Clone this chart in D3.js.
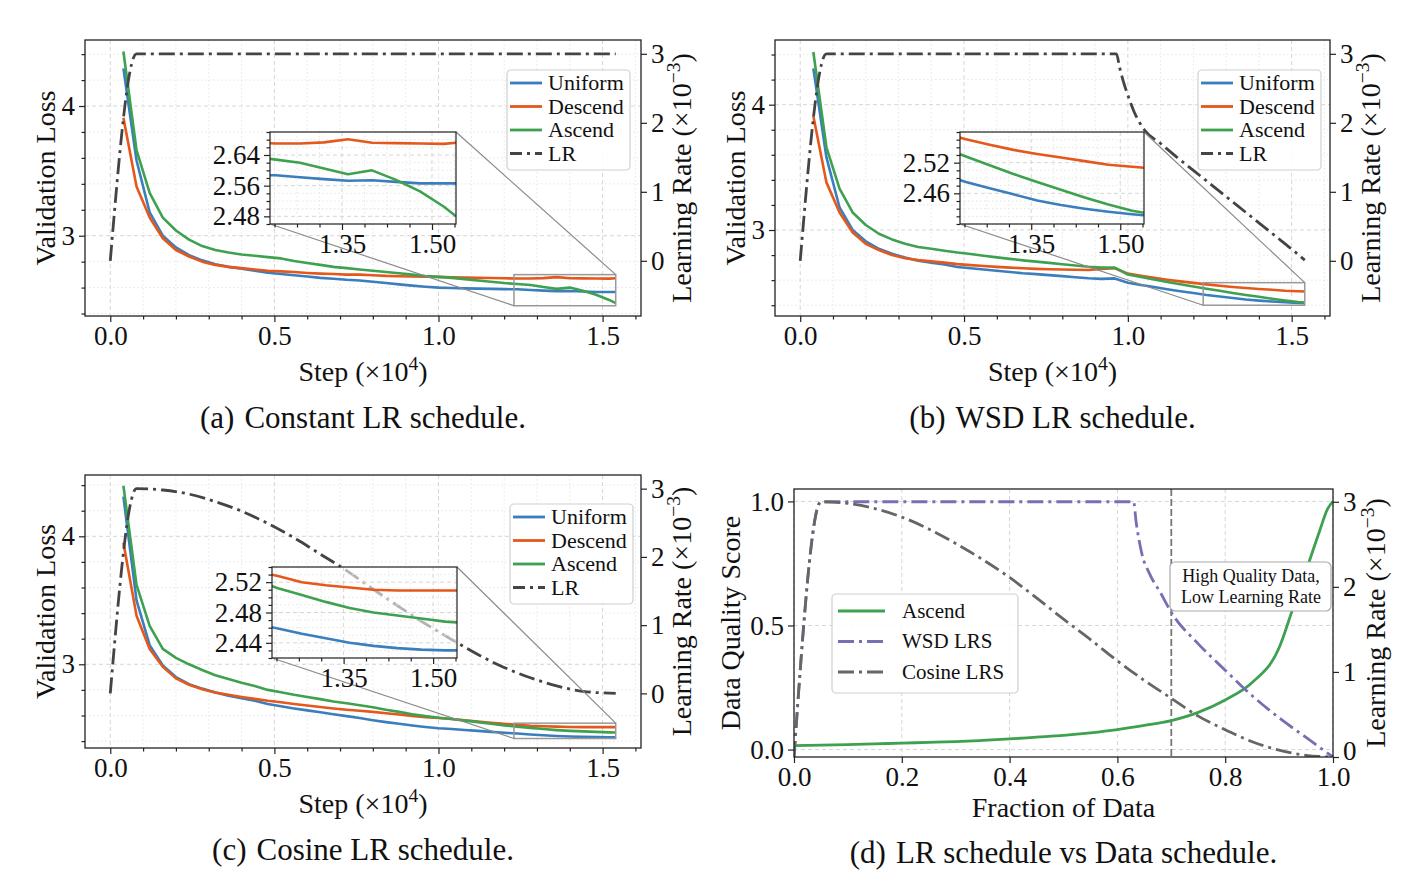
<!DOCTYPE html>
<html>
<head>
<meta charset="utf-8">
<script src="https://cdn.jsdelivr.net/npm/d3@7/dist/d3.min.js"></script>
<style>
  body { margin: 0; background: #fff; }
  text { font-family: "Liberation Serif", "Times New Roman", serif; fill: #111; }
</style>
</head>
<body>
<svg id="fig" width="1420" height="894"></svg>
<script>
// ---------- data (steps in units of 1e4) ----------
const steps = [0.04,0.08,0.12,0.16,0.20,0.24,0.28,0.32,0.36,0.40,0.44,0.48,0.52,0.56,0.60,0.64,0.68,0.72,0.76,0.80,
               0.84,0.88,0.92,0.96,1.00,1.04,1.08,1.12,1.16,1.20,1.24,1.28,1.32,1.36,1.40,1.44,1.48,1.52,1.54];

// (a) constant LR
const constUniform = [4.29,3.58,3.18,3.00,2.91,2.85,2.81,2.78,2.76,2.745,2.73,2.715,2.705,2.695,2.685,2.675,2.668,2.66,2.655,2.645,
                      2.635,2.625,2.615,2.607,2.60,2.597,2.594,2.592,2.59,2.588,2.587,2.582,2.577,2.573,2.574,2.57,2.566,2.566,2.566];
const constDescend = [3.91,3.38,3.14,2.98,2.89,2.84,2.80,2.775,2.76,2.75,2.74,2.73,2.725,2.72,2.713,2.708,2.705,2.70,2.70,2.695,
                      2.69,2.688,2.686,2.684,2.683,2.68,2.678,2.675,2.674,2.672,2.670,2.670,2.673,2.681,2.672,2.671,2.670,2.669,2.672];
const constAscend  = [4.42,3.66,3.33,3.14,3.04,2.97,2.92,2.89,2.87,2.855,2.845,2.835,2.825,2.805,2.79,2.775,2.76,2.75,2.74,2.73,
                      2.72,2.71,2.70,2.69,2.683,2.675,2.665,2.655,2.645,2.635,2.628,2.62,2.605,2.59,2.60,2.575,2.545,2.505,2.48];
const lrConstX = [0, 0.08, 1.54];
const lrConst  = [0, 3, 3];

// (b) WSD LR
const wsdUniform = [4.29,3.58,3.18,3.00,2.91,2.85,2.81,2.78,2.755,2.74,2.725,2.705,2.695,2.685,2.675,2.665,2.655,2.648,2.64,2.632,
                    2.623,2.615,2.61,2.614,2.58,2.562,2.545,2.528,2.512,2.497,2.482,2.47,2.458,2.446,2.437,2.43,2.424,2.419,2.417];
const wsdDescend = [3.91,3.38,3.14,2.98,2.89,2.84,2.80,2.775,2.76,2.75,2.74,2.728,2.72,2.713,2.706,2.70,2.695,2.69,2.687,2.685,
                    2.683,2.681,2.69,2.695,2.652,2.635,2.618,2.603,2.59,2.578,2.566,2.555,2.545,2.537,2.53,2.523,2.516,2.512,2.51];
const wsdAscend  = [4.42,3.66,3.33,3.14,3.04,2.97,2.925,2.89,2.865,2.85,2.835,2.82,2.808,2.795,2.782,2.77,2.758,2.748,2.738,2.727,
                    2.717,2.707,2.70,2.70,2.645,2.625,2.605,2.585,2.568,2.55,2.532,2.515,2.498,2.482,2.467,2.452,2.438,2.426,2.422];
const lrWsdX = [0,0.08,0.965,0.975,0.985,1.00,1.02,1.05,1.10,1.15,1.20,1.25,1.30,1.35,1.40,1.45,1.50,1.54];
const lrWsd  = [0,3,3,2.80,2.62,2.40,2.15,1.90,1.70,1.50,1.31,1.12,0.93,0.74,0.55,0.36,0.17,0.01];

// (c) cosine LR
const cosUniform = [4.31,3.50,3.15,2.99,2.90,2.845,2.81,2.78,2.755,2.735,2.715,2.69,2.672,2.655,2.64,2.625,2.61,2.595,2.58,2.563,
                    2.548,2.535,2.522,2.51,2.50,2.494,2.487,2.48,2.472,2.465,2.459,2.452,2.446,2.44,2.436,2.433,2.431,2.43,2.43];
const cosDescend = [3.95,3.38,3.12,2.98,2.89,2.84,2.805,2.78,2.762,2.745,2.73,2.715,2.703,2.69,2.678,2.666,2.655,2.645,2.637,2.628,
                    2.618,2.608,2.597,2.587,2.58,2.572,2.563,2.553,2.543,2.535,2.528,2.52,2.516,2.513,2.51,2.509,2.509,2.509,2.509];
const cosAscend  = [4.395,3.62,3.30,3.12,3.05,3.00,2.955,2.915,2.885,2.855,2.83,2.80,2.782,2.762,2.745,2.728,2.71,2.695,2.68,2.665,
                    2.645,2.628,2.61,2.595,2.583,2.572,2.56,2.548,2.535,2.523,2.512,2.503,2.494,2.486,2.48,2.476,2.472,2.468,2.467];
const lrCosX = [0,0.08,0.16,0.24,0.32,0.40,0.48,0.56,0.64,0.72,0.80,0.88,0.96,1.04,1.12,1.20,1.28,1.36,1.44,1.54];
const lrCos  = [0,3.0,2.98,2.92,2.81,2.67,2.49,2.28,2.04,1.80,1.53,1.27,1.02,0.79,0.57,0.38,0.23,0.11,0.03,0.0];

// (d) schedules vs fraction of data
const fracX       = [0,0.05,0.10,0.15,0.20,0.25,0.30,0.35,0.40,0.45,0.50,0.55,0.60,0.65,0.70,0.75,0.80,0.85,0.90,0.925,0.95,0.975,0.99,1.0];
const ascendScore = [0.016,0.018,0.020,0.023,0.026,0.029,0.032,0.037,0.043,0.050,0.057,0.067,0.080,0.097,0.117,0.150,0.20,0.27,0.41,0.565,0.72,0.88,0.97,1.0];
const wsdFracX = [0,0.05,0.63,0.635,0.645,0.66,0.68,0.70,0.75,0.80,0.85,0.90,0.95,1.0];
const wsdLrs   = [0,3,3,2.75,2.40,2.15,1.93,1.70,1.33,1.02,0.72,0.46,0.23,0];
const cosFracX = [0,0.05,0.10,0.15,0.20,0.25,0.30,0.35,0.40,0.45,0.50,0.55,0.60,0.65,0.70,0.75,0.80,0.85,0.90,0.95,1.0];
const cosLrs   = [0,3,2.98,2.92,2.82,2.68,2.51,2.32,2.11,1.87,1.62,1.38,1.13,0.90,0.69,0.48,0.32,0.18,0.08,0.02,0];

// tick labels
const stepTicks = [0, 0.5, 1.0, 1.5];
const lossTicks = [3, 4];
const lrTicks = [0, 1, 2, 3];
const zoomXTicks = [1.35, 1.50];
const fracTicks = [0, 0.2, 0.4, 0.6, 0.8, 1.0];
const scoreTicks = [0, 0.5, 1.0];

const seriesNames = ['Uniform', 'Descend', 'Ascend'];
const colors = ['#3a7ebd', '#e4581c', '#3ea150'];
const lrColor = '#444444';
const LRDASH = '16,5,3,5';

const svg = d3.select('#fig');
let clipN = 0;

function minorTicks(dom, step, majors) {
  const out = [];
  const lo = Math.min(dom[0], dom[1]), hi = Math.max(dom[0], dom[1]);
  for (let k = Math.ceil(lo / step - 1e-9); k * step <= hi + 1e-9; k++) {
    const v = +(k * step).toFixed(6);
    if (!majors.some(m => Math.abs(m - v) < 1e-6)) out.push(v);
  }
  return out;
}

function clip(g, l, t, r, b) {
  const id = 'clip' + (clipN++);
  g.append('clipPath').attr('id', id).append('rect')
    .attr('x', l).attr('y', t).attr('width', r - l).attr('height', b - t);
  return `url(#${id})`;
}

function grid(g, x, y, xMaj, xMin, yMaj, yMin, box) {
  const gg = g.append('g');
  const put = (vals, vertical, dash, color) => {
    gg.selectAll(null).data(vals).enter().append('line')
      .attr('x1', d => vertical ? x(d) : box.l).attr('x2', d => vertical ? x(d) : box.r)
      .attr('y1', d => vertical ? box.t : y(d)).attr('y2', d => vertical ? box.b : y(d))
      .attr('stroke', color).attr('stroke-width', 1).attr('stroke-dasharray', dash);
  };
  if (xMin) put(xMin, true, '1.5,2.5', '#e6e6e6');
  if (yMin) put(yMin, false, '1.5,2.5', '#e6e6e6');
  put(xMaj, true, '4,3', '#d6d6d6');
  put(yMaj, false, '4,3', '#d6d6d6');
}

function axis(g, gen, tr, size, fmt, vals, fs) {
  const a = gen.tickValues(vals).tickSize(size).tickPadding(4).tickFormat(fmt);
  const s = g.append('g').attr('transform', tr).call(a)
    .attr('font-size', fs).attr('font-family', '"Liberation Serif","Times New Roman",serif');
  s.select('.domain').remove();
  s.selectAll('line').attr('stroke', '#222').attr('stroke-width', 1.2);
  s.selectAll('text').attr('fill', '#111');
  return s;
}

function supLabel(g, x, y, rot, main, sup, tail, fs) {
  const t = g.append('text').attr('text-anchor', 'middle').attr('font-size', fs)
    .attr('transform', `translate(${x},${y}) rotate(${rot})`);
  t.append('tspan').text(main);
  t.append('tspan').attr('font-size', fs * 0.7).attr('dy', -fs * 0.38).text(sup);
  t.append('tspan').attr('dy', fs * 0.38).text(tail);
}

function caption(g, cx, y, tag, txt) {
  const t = g.append('text').attr('x', cx).attr('y', y).attr('text-anchor', 'middle').attr('font-size', 31);
  t.append('tspan').text(tag);
  t.append('tspan').attr('dx', 10).text(txt);
}

function legendBox(g, x0, y0, w, h, items, o) {
  const lg = g.append('g');
  lg.append('rect').attr('x', x0).attr('y', y0).attr('width', w).attr('height', h).attr('rx', 4)
    .attr('fill', '#fff').attr('fill-opacity', 0.85).attr('stroke', '#cfcfcf').attr('stroke-width', 1.2);
  items.forEach((it, i) => {
    const cy = y0 + o.first + i * o.gap;
    lg.append('line').attr('x1', x0 + o.l1).attr('x2', x0 + o.l2).attr('y1', cy).attr('y2', cy)
      .attr('stroke', it.color).attr('stroke-width', 2.8).attr('stroke-dasharray', it.dash || null);
    lg.append('text').attr('x', x0 + o.tx).attr('y', cy + o.fs * 0.33).attr('font-size', o.fs).text(it.label);
  });
}

function lossPanel(p) {
  const g = svg.append('g');
  const x = d3.scaleLinear().domain([-0.077, 1.617]).range([p.l, p.r]);
  const y = d3.scaleLinear().domain(p.yDom).range([p.b, p.t]);
  const y2 = d3.scaleLinear().domain([-0.8, 3.2]).range([p.b, p.t]);

  const stepMinor = minorTicks(x.domain(), 0.1, stepTicks);
  const lossMinor = minorTicks(y.domain(), 0.2, lossTicks);
  grid(g, x, y, stepTicks, stepMinor, lossTicks, lossMinor, p);

  const plot = g.append('g').attr('clip-path', clip(g, p.l, p.t, p.r, p.b));
  const line = d3.line().x((d, i) => x(steps[i])).y(d => y(d));
  p.series.forEach((s, k) => {
    plot.append('path').attr('d', line(s)).attr('fill', 'none')
      .attr('stroke', colors[k]).attr('stroke-width', 2.6).attr('stroke-linejoin', 'round');
  });
  const lrLine = d3.line().x((d, i) => x(p.lrX[i])).y(d => y2(d)).curve(d3.curveMonotoneX);
  plot.append('path').attr('d', lrLine(p.lr)).attr('fill', 'none')
    .attr('stroke', lrColor).attr('stroke-width', 2.8).attr('stroke-dasharray', LRDASH);

  // zoom indicator and connectors
  const q = p.inset;
  const zx = [1.23, 1.54];
  g.append('rect').attr('x', x(zx[0])).attr('y', y(q.yDom[1]))
    .attr('width', x(zx[1]) - x(zx[0])).attr('height', y(q.yDom[0]) - y(q.yDom[1]))
    .attr('fill', 'none').attr('stroke', '#999').attr('stroke-width', 1.5);
  g.append('line').attr('x1', q.r).attr('y1', q.t).attr('x2', x(zx[1])).attr('y2', y(q.yDom[1]))
    .attr('stroke', '#8a8a8a').attr('stroke-width', 1.2);
  g.append('line').attr('x1', q.l).attr('y1', q.b).attr('x2', x(zx[0])).attr('y2', y(q.yDom[0]))
    .attr('stroke', '#8a8a8a').attr('stroke-width', 1.2);

  // inset
  const ix = d3.scaleLinear().domain(zx).range([q.l, q.r]);
  const iy = d3.scaleLinear().domain(q.yDom).range([q.b, q.t]);
  g.append('rect').attr('x', q.l).attr('y', q.t).attr('width', q.r - q.l).attr('height', q.b - q.t)
    .attr('fill', '#fff').attr('fill-opacity', 0.6);
  const ixMinor = minorTicks(zx, 0.0375, zoomXTicks);
  const iyMinor = minorTicks(q.yDom, q.minor, q.ticks);
  grid(g, ix, iy, zoomXTicks, ixMinor, q.ticks, iyMinor, q);
  const iplot = g.append('g').attr('clip-path', clip(g, q.l, q.t, q.r, q.b));
  const iline = d3.line().x((d, i) => ix(steps[i])).y(d => iy(d));
  p.series.forEach((s, k) => {
    iplot.append('path').attr('d', iline(s)).attr('fill', 'none')
      .attr('stroke', colors[k]).attr('stroke-width', 2.6).attr('stroke-linejoin', 'round');
  });
  g.append('rect').attr('x', q.l).attr('y', q.t).attr('width', q.r - q.l).attr('height', q.b - q.t)
    .attr('fill', 'none').attr('stroke', '#222').attr('stroke-width', 1.2);
  const f2 = d3.format('.2f');
  axis(g, d3.axisBottom(ix), `translate(0,${q.b})`, 6, f2, zoomXTicks, 27);
  axis(g, d3.axisBottom(ix), `translate(0,${q.b})`, 3.5, '', ixMinor, 27);
  axis(g, d3.axisLeft(iy), `translate(${q.l},0)`, 6, f2, q.ticks, 27);
  axis(g, d3.axisLeft(iy), `translate(${q.l},0)`, 3.5, '', iyMinor, 27);

  legendBox(g, p.leg[0], p.leg[1], 123, 100,
    seriesNames.map((n, k) => ({ label: n, color: colors[k] })).concat([{ label: 'LR', color: lrColor, dash: '12,5,3,5' }]),
    { first: 13, gap: 23.5, l1: 3, l2: 35, tx: 41, fs: 22 });

  // frame and axes
  g.append('rect').attr('x', p.l).attr('y', p.t).attr('width', p.r - p.l).attr('height', p.b - p.t)
    .attr('fill', 'none').attr('stroke', '#222').attr('stroke-width', 1.3);
  axis(g, d3.axisBottom(x), `translate(0,${p.b})`, 6, d3.format('.1f'), stepTicks, 27);
  axis(g, d3.axisBottom(x), `translate(0,${p.b})`, 3.5, '', stepMinor, 27);
  axis(g, d3.axisLeft(y), `translate(${p.l},0)`, 6, d3.format('d'), lossTicks, 27);
  axis(g, d3.axisLeft(y), `translate(${p.l},0)`, 3.5, '', lossMinor, 27);
  axis(g, d3.axisRight(y2), `translate(${p.r},0)`, 6, d3.format('d'), lrTicks, 27);

  const mid = (p.t + p.b) / 2, cx = (p.l + p.r) / 2;
  g.append('text').attr('text-anchor', 'middle').attr('font-size', 28)
    .attr('transform', `translate(${p.l - 30},${mid}) rotate(-90)`).text('Validation Loss');
  supLabel(g, p.r + 50, mid, -90, 'Learning Rate (×10', '−3', ')', 28);
  supLabel(g, cx, p.b + 65, 0, 'Step (×10', '4', ')', 28);
  caption(g, cx, p.b + 112, p.tag, p.title);
}

lossPanel({ l: 85, r: 641, t: 40, b: 316, yDom: [2.381, 4.509],
  series: [constUniform, constDescend, constAscend], lrX: lrConstX, lr: lrConst,
  inset: { l: 270, r: 456, t: 132, b: 224, yDom: [2.46, 2.70], ticks: [2.48, 2.56, 2.64], minor: 0.02 },
  leg: [507, 70], tag: '(a)', title: 'Constant LR schedule.' });

lossPanel({ l: 775, r: 1330, t: 40, b: 316, yDom: [2.314, 4.516],
  series: [wsdUniform, wsdDescend, wsdAscend], lrX: lrWsdX, lr: lrWsd,
  inset: { l: 960, r: 1144, t: 132, b: 224, yDom: [2.40, 2.58], ticks: [2.46, 2.52], minor: 0.015 },
  leg: [1198, 70], tag: '(b)', title: 'WSD LR schedule.' });

lossPanel({ l: 85, r: 641, t: 475, b: 748, yDom: [2.346, 4.479],
  series: [cosUniform, cosDescend, cosAscend], lrX: lrCosX, lr: lrCos,
  inset: { l: 272, r: 457, t: 567, b: 658, yDom: [2.42, 2.54], ticks: [2.44, 2.48, 2.52], minor: 0.01 },
  leg: [510, 504], tag: '(c)', title: 'Cosine LR schedule.' });

// ---------- panel (d) ----------
(function () {
  const p = { l: 794, r: 1333, t: 489, b: 757 };
  const g = svg.append('g');
  const x = d3.scaleLinear().domain([0, 1]).range([p.l, p.r]);
  const y = d3.scaleLinear().domain([-0.03, 1.05]).range([p.b, p.t]);
  const y2 = d3.scaleLinear().domain([0, 3.15]).range([p.b, p.t]);

  grid(g, x, y, fracTicks, null, scoreTicks, null, p);
  g.append('line').attr('x1', x(0.7)).attr('x2', x(0.7)).attr('y1', p.t).attr('y2', p.b)
    .attr('stroke', '#777').attr('stroke-width', 1.8).attr('stroke-dasharray', '7,3');

  const plot = g.append('g').attr('clip-path', clip(g, p.l, p.t - 2, p.r + 2, p.b));
  plot.append('path')
    .attr('d', d3.line().x((d, i) => x(fracX[i])).y(d => y(d)).curve(d3.curveMonotoneX)(ascendScore))
    .attr('fill', 'none').attr('stroke', colors[2]).attr('stroke-width', 2.8);
  plot.append('path')
    .attr('d', d3.line().x((d, i) => x(wsdFracX[i])).y(d => y2(d)).curve(d3.curveMonotoneX)(wsdLrs))
    .attr('fill', 'none').attr('stroke', '#7570b3').attr('stroke-width', 2.8).attr('stroke-dasharray', LRDASH);
  plot.append('path')
    .attr('d', d3.line().x((d, i) => x(cosFracX[i])).y(d => y2(d)).curve(d3.curveMonotoneX)(cosLrs))
    .attr('fill', 'none').attr('stroke', '#666').attr('stroke-width', 2.8).attr('stroke-dasharray', LRDASH);

  legendBox(g, 832, 594, 186, 99, [
    { label: 'Ascend', color: colors[2] },
    { label: 'WSD LRS', color: '#7570b3', dash: '16,5,3,5' },
    { label: 'Cosine LRS', color: '#666', dash: '16,5,3,5' }
  ], { first: 17, gap: 30.5, l1: 6, l2: 53, tx: 70, fs: 21 });

  g.append('rect').attr('x', 1170).attr('y', 562).attr('width', 161).attr('height', 49).attr('rx', 5)
    .attr('fill', '#fff').attr('stroke', '#aaa').attr('stroke-width', 1.2);
  g.append('text').attr('x', 1251).attr('y', 582).attr('text-anchor', 'middle').attr('font-size', 18)
    .text('High Quality Data,');
  g.append('text').attr('x', 1251).attr('y', 603).attr('text-anchor', 'middle').attr('font-size', 18)
    .text('Low Learning Rate');

  g.append('rect').attr('x', p.l).attr('y', p.t).attr('width', p.r - p.l).attr('height', p.b - p.t)
    .attr('fill', 'none').attr('stroke', '#222').attr('stroke-width', 1.3);
  axis(g, d3.axisBottom(x), `translate(0,${p.b})`, 6, d3.format('.1f'), fracTicks, 27);
  axis(g, d3.axisLeft(y), `translate(${p.l},0)`, 6, d3.format('.1f'), scoreTicks, 27);
  const r = axis(g, d3.axisRight(y2), `translate(${p.r},0)`, 6, d3.format('d'), lrTicks, 27);
  r.selectAll('text').filter(d => d === 0).attr('dy', '0.1em');

  const mid = (p.t + p.b) / 2, cx = (p.l + p.r) / 2;
  g.append('text').attr('text-anchor', 'middle').attr('font-size', 28)
    .attr('transform', `translate(${p.l - 54},${mid}) rotate(-90)`).text('Data Quality Score');
  supLabel(g, p.r + 52, mid, -90, 'Learning Rate (×10', '−3', ')', 28);
  g.append('text').attr('x', cx).attr('y', 817).attr('text-anchor', 'middle').attr('font-size', 28)
    .text('Fraction of Data');
  caption(g, cx, 863, '(d)', 'LR schedule vs Data schedule.');
})();
</script>
</body>
</html>
